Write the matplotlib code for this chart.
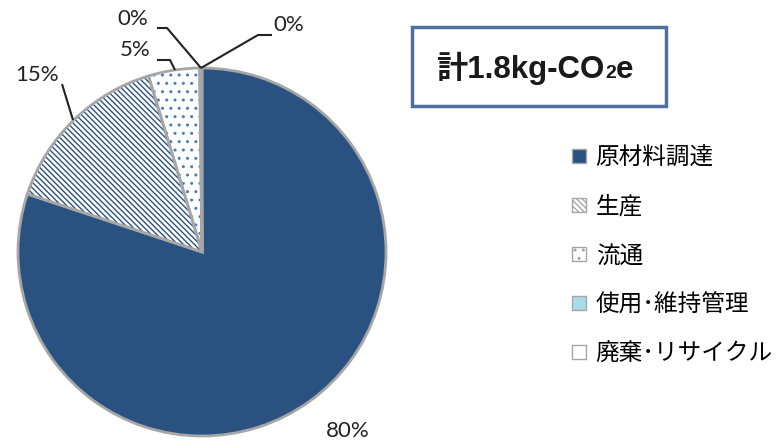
import numpy as np
import matplotlib.pyplot as plt
from matplotlib.patches import Patch, Rectangle

plt.rcParams['font.family'] = ['Noto Sans CJK JP', 'DejaVu Sans']
plt.rcParams['hatch.linewidth'] = 1.0

# data
labels = ['原材料調達', '生産', '流通', '使用･維持管理', '廃棄･リサイクル']
values = [80.1, 15.2, 4.5, 0.1, 0.1]
pct_text = ['80%', '15%', '5%', '0%', '0%']
total_text = '計1.8kg-CO'

dark = '#2A5280'
dotblue = '#4A7CC0'
faces = [dark, 'white', 'white', '#A9DCE6', 'white']
hatches = [None, '\\\\\\\\\\\\', '..', None, None]
hatch_cols = [dark, dark, dotblue, '#A9DCE6', 'white']

W, H = 781, 445
fig = plt.figure(figsize=(W / 100, H / 100), dpi=100)
ax = fig.add_axes([0, 0, 1, 1])

cx, cy, R = 202, H - 252, 184

# fill + hatch (hatch colour comes from edgecolor)
w1, _ = ax.pie(values, startangle=90, counterclock=False, center=(cx, cy),
               radius=R, colors=faces, hatch=hatches,
               wedgeprops=dict(linewidth=0))
for w, c in zip(w1, hatch_cols):
    w.set_edgecolor(c)
# outlines
w2, _ = ax.pie(values, startangle=90, counterclock=False, center=(cx, cy),
               radius=R, colors=['none'] * 5,
               wedgeprops=dict(linewidth=2, edgecolor='#A6A6A6', fill=False))

ax.set_xlim(0, W)
ax.set_ylim(0, H)
ax.set_aspect('equal')
ax.axis('off')

# percentage labels with leader lines (pixel positions)
lab_pos = [(348, 431), (37, 75), (135, 50), (133, 19), (289, 25)]
leaders = [None,
           [(62, 84), (73, 120)],
           [(157, 60), (170, 60), (175, 70)],
           [(157, 28), (167, 28), (201, 68)],
           [(201, 68), (258, 35), (272, 35)]]
for t, (px, py), ld in zip(pct_text, lab_pos, leaders):
    ax.text(px, H - py, t, ha='center', va='center', fontsize=16,
            family=['Lato', 'DejaVu Sans'], color='#222222')
    if ld:
        xs = [p[0] for p in ld]
        ys = [H - p[1] for p in ld]
        ax.plot(xs, ys, color='#222222', lw=1.5, solid_capstyle='butt')

# title box
ax.add_patch(Rectangle((412, H - 106), 254, 79, facecolor='white',
                       edgecolor='#4F6F9F', lw=2.5))
base = H - 78
t1 = ax.text(436, base, total_text, ha='left', va='baseline', fontsize=22.5,
             fontweight='bold', family=['Liberation Sans', 'Noto Sans CJK JP'],
             color='#1a1a1a')
fig.canvas.draw()
r = fig.canvas.get_renderer()
bb = t1.get_window_extent(r)
t2 = ax.text(bb.x1 + 0.5, base, '2', ha='left', va='baseline', fontsize=14,
             fontweight='bold', family='Liberation Sans', color='#1a1a1a')
bb2 = t2.get_window_extent(r)
ax.text(bb2.x1 + 0.5, base, 'e', ha='left', va='baseline', fontsize=22.5,
        fontweight='bold', family='Liberation Sans', color='#1a1a1a')

# legend
handles = [Patch(facecolor=f, edgecolor='#A6A6A6', hatch=h, lw=1)
           for f, h in zip(faces, hatches)]
leg = ax.legend(handles, labels, loc='upper left',
                bbox_to_anchor=(563 / W, 1 - 137 / H), frameon=False,
                fontsize=17, handlelength=0.58, handleheight=0.58,
                handletextpad=0.4, labelspacing=1.1, borderaxespad=0)

fig.savefig('out.png', dpi=100)
